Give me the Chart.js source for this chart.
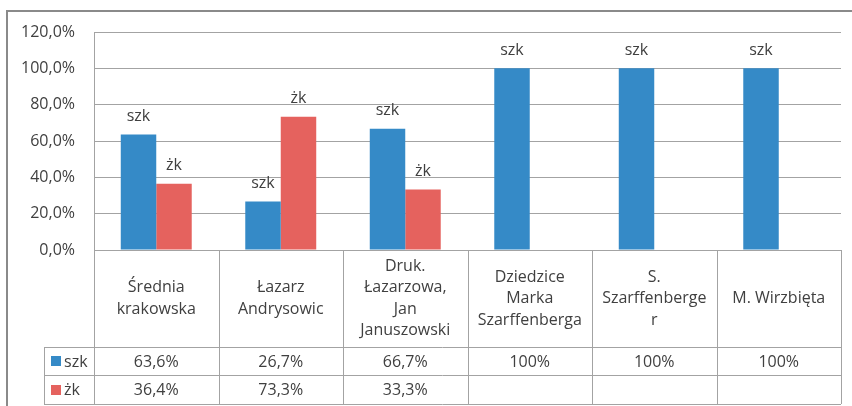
<!DOCTYPE html>
<html>
<head>
<meta charset="utf-8">
<script src="https://cdn.jsdelivr.net/npm/chart.js@4/dist/chart.umd.min.js"></script>
<style>
  html, body { margin: 0; padding: 0; background: #fff; }
</style>
</head>
<body>
<canvas id="chart" width="852" height="406"></canvas>
<script>
var categories = [
  ["Średnia", "krakowska"],
  ["Łazarz", "Andrysowic"],
  ["Druk.", "Łazarzowa,", "Jan", "Januszowski"],
  ["Dziedzice", "Marka", "Szarffenberga"],
  ["S.", "Szarffenberge", "r"],
  ["M. Wirzbięta"]
];
var seriesNames = ["szk", "żk"];
var szkValues = [63.6, 26.7, 66.7, 100, 100, 100];
var zkValues = [36.4, 73.3, 33.3, null, null, null];
var seriesColors = ["#358ac7", "#e5625e"];

var textColor = "#404040";
var lineColor = "#a3a3a3";
var fontFamily = "'Open Sans', sans-serif";
var fontSize = 16;

function pct(v) {
  if (v === null) return "";
  if (v === 100) return "100%";
  return v.toFixed(1).replace(".", ",") + "%";
}

// series name over every bar
var barLabels = {
  id: "barLabels",
  afterDatasetsDraw: function (chart) {
    var ctx = chart.ctx;
    ctx.save();
    ctx.font = fontSize + "px " + fontFamily;
    ctx.fillStyle = textColor;
    ctx.textAlign = "center";
    ctx.textBaseline = "middle";
    chart.data.datasets.forEach(function (ds, i) {
      var meta = chart.getDatasetMeta(i);
      meta.data.forEach(function (bar, j) {
        if (ds.data[j] === null) return;
        ctx.fillText(ds.label, bar.x, bar.y - 18);
      });
    });
    ctx.restore();
  }
};

// excel style data table under the plot
var dataTable = {
  id: "dataTable",
  afterDraw: function (chart) {
    var ctx = chart.ctx;
    var area = chart.chartArea;
    var n = categories.length;
    var colW = (area.right - area.left) / n;
    var top = area.bottom;
    var r1 = 347, r2 = 375, r3 = 404;
    var legLeft = 44;

    ctx.save();
    ctx.strokeStyle = lineColor;
    ctx.lineWidth = 1;
    ctx.beginPath();
    for (var i = 0; i <= n; i++) {
      var x = Math.round(area.left + i * colW) + 0.5;
      ctx.moveTo(x, top);
      ctx.lineTo(x, r3);
    }
    [r1, r2, r3].forEach(function (y) {
      ctx.moveTo(legLeft, y + 0.5);
      ctx.lineTo(area.right, y + 0.5);
    });
    ctx.moveTo(legLeft + 0.5, r1);
    ctx.lineTo(legLeft + 0.5, r3);
    ctx.stroke();

    ctx.font = fontSize + "px " + fontFamily;
    ctx.fillStyle = textColor;
    ctx.textAlign = "center";
    ctx.textBaseline = "middle";
    var lh = 21.5;
    categories.forEach(function (lines, i) {
      var cx = area.left + (i + 0.5) * colW;
      var cy = (top + r1) / 2 - (lines.length - 1) * lh / 2;
      lines.forEach(function (t, k) {
        ctx.fillText(t, cx, cy + k * lh);
      });
      ctx.fillText(pct(szkValues[i]), cx, (r1 + r2) / 2 + 1);
      ctx.fillText(pct(zkValues[i]), cx, (r2 + r3) / 2 + 1);
    });

    // legend keys
    var rows = [(r1 + r2) / 2, (r2 + r3) / 2];
    ctx.textAlign = "left";
    seriesNames.forEach(function (name, i) {
      ctx.fillStyle = seriesColors[i];
      ctx.fillRect(51, Math.round(rows[i]) - 5, 10, 10);
      ctx.fillStyle = textColor;
      ctx.fillText(name, 64, rows[i] + 1);
    });

    // outer chart frame
    ctx.strokeStyle = "#8a8a8a";
    ctx.lineWidth = 2;
    ctx.strokeRect(7, 11, 900, 500);
    ctx.restore();
  }
};

new Chart(document.getElementById("chart"), {
  type: "bar",
  data: {
    labels: categories,
    datasets: [
      {
        label: seriesNames[0],
        data: szkValues,
        backgroundColor: seriesColors[0],
        borderWidth: 0,
        categoryPercentage: 0.57,
        barPercentage: 1
      },
      {
        label: seriesNames[1],
        data: zkValues,
        backgroundColor: seriesColors[1],
        borderWidth: 0,
        categoryPercentage: 0.57,
        barPercentage: 1
      }
    ]
  },
  options: {
    responsive: false,
    devicePixelRatio: 1,
    animation: false,
    layout: { padding: { top: 32, right: 11, bottom: 156, left: 0 } },
    plugins: {
      legend: { display: false },
      tooltip: { enabled: false }
    },
    scales: {
      x: { display: false },
      y: {
        min: 0,
        max: 120,
        afterFit: function (scale) { scale.width = 94; },
        ticks: {
          stepSize: 20,
          padding: 19,
          color: textColor,
          font: { family: fontFamily, size: fontSize },
          callback: function (v) { return v.toFixed(1).replace(".", ",") + "%"; }
        },
        grid: { color: lineColor, drawTicks: false },
        border: { color: lineColor }
      }
    }
  },
  plugins: [barLabels, dataTable]
});
</script>
</body>
</html>
